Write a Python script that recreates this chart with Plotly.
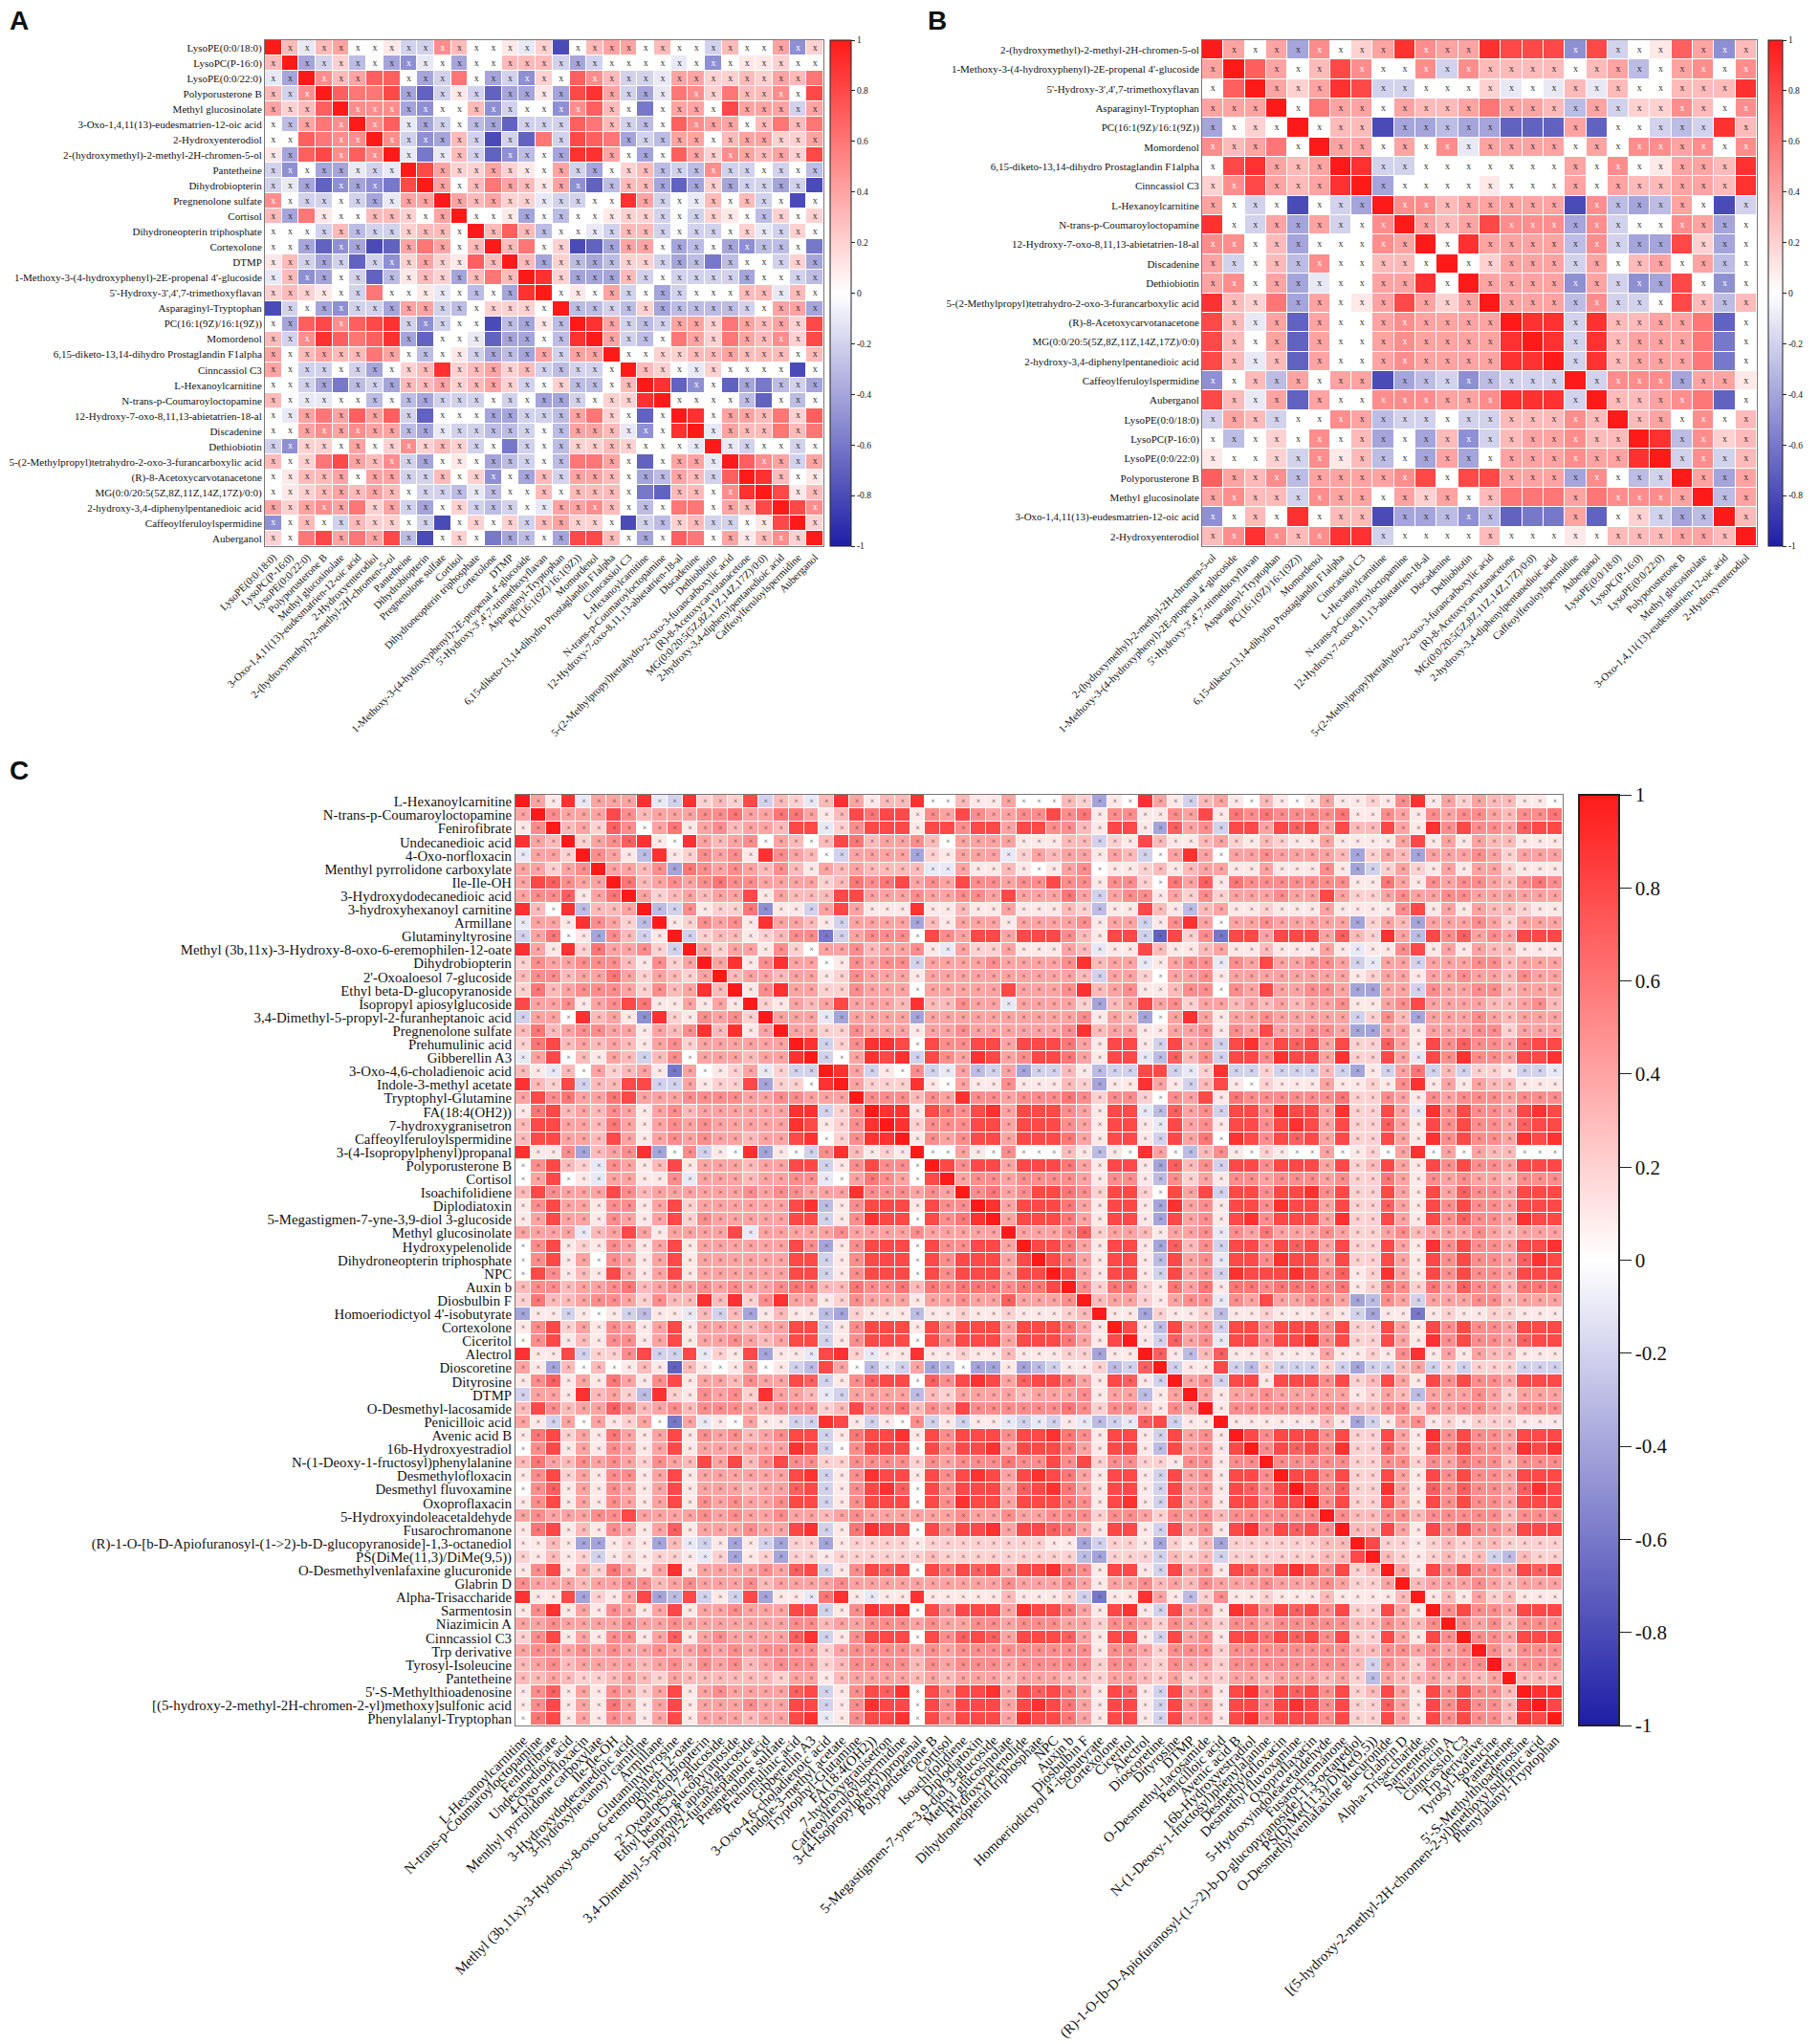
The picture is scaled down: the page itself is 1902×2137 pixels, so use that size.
import plotly.graph_objects as go

W, H = 1902, 2137

# ---------------- panel A ----------------
a_labels = [
    "LysoPE(0:0/18:0)", "LysoPC(P-16:0)", "LysoPE(0:0/22:0)", "Polyporusterone B",
    "Methyl glucosinolate", "3-Oxo-1,4,11(13)-eudesmatrien-12-oic acid", "2-Hydroxyenterodiol",
    "2-(hydroxymethyl)-2-methyl-2H-chromen-5-ol", "Pantetheine", "Dihydrobiopterin",
    "Pregnenolone sulfate", "Cortisol", "Dihydroneopterin triphosphate", "Cortexolone", "DTMP",
    "1-Methoxy-3-(4-hydroxyphenyl)-2E-propenal 4'-glucoside", "5'-Hydroxy-3',4',7-trimethoxyflavan",
    "Asparaginyl-Tryptophan", "PC(16:1(9Z)/16:1(9Z))", "Momordenol",
    "6,15-diketo-13,14-dihydro Prostaglandin F1alpha", "Cinncassiol C3", "L-Hexanoylcarnitine",
    "N-trans-p-Coumaroyloctopamine", "12-Hydroxy-7-oxo-8,11,13-abietatrien-18-al", "Discadenine",
    "Dethiobiotin", "5-(2-Methylpropyl)tetrahydro-2-oxo-3-furancarboxylic acid",
    "(R)-8-Acetoxycarvotanacetone", "MG(0:0/20:5(5Z,8Z,11Z,14Z,17Z)/0:0)",
    "2-hydroxy-3,4-diphenylpentanedioic acid", "Caffeoylferuloylspermidine", "Auberganol",
]
# lower triangle, one char per cell: '0'..'9' = 0.0..0.9, 'a'..'i' = -0.1..-0.9
a_rows = [
    "", "3", "ad", "3b5", "4237", "0c465", "007655", "1d78575", "be0ddaba", "badgedef8",
    "50bb0bda44", "3d610033204", "000b3cbb2330", "00dgedhg46403", "13bdbgbe242173",
    "a3ed0bgc132d363", "23210b6001a0c0d9", "hb0debbd44bc02220", "0d785789beb00hcd1c",
    "3b597679dg00agdd0c9", "403433640c01bdcd4b44", "40bb0bd023923423bcbb0",
    "00bdfcbd3342342b02cc03", "30aa00c0cdbbb0b0ddb0229", "0a464747bg000ddbbc4620g0",
    "00454544cdabbccb0c443ae09", "be2204025232b0fb0c2232000a", "30268435bd010dcb0c6640g044a",
    "01334044bb302e0d3b4430dc43b7", "012343430bbcac00303330fg33059",
    "42454624bd02bcb0a44530c0660438", "e030b3220bh0202b34220hbc23bb018",
    "20684648ch020fdc0d8830d076041352",
]

# ---------------- panel B ----------------
b_labels = [
    "2-(hydroxymethyl)-2-methyl-2H-chromen-5-ol", "1-Methoxy-3-(4-hydroxyphenyl)-2E-propenal 4'-glucoside",
    "5'-Hydroxy-3',4',7-trimethoxyflavan", "Asparaginyl-Tryptophan", "PC(16:1(9Z)/16:1(9Z))",
    "Momordenol", "6,15-diketo-13,14-dihydro Prostaglandin F1alpha", "Cinncassiol C3",
    "L-Hexanoylcarnitine", "N-trans-p-Coumaroyloctopamine", "12-Hydroxy-7-oxo-8,11,13-abietatrien-18-al",
    "Discadenine", "Dethiobiotin", "5-(2-Methylpropyl)tetrahydro-2-oxo-3-furancarboxylic acid",
    "(R)-8-Acetoxycarvotanacetone", "MG(0:0/20:5(5Z,8Z,11Z,14Z,17Z)/0:0)",
    "2-hydroxy-3,4-diphenylpentanedioic acid", "Caffeoylferuloylspermidine", "Auberganol",
    "LysoPE(0:0/18:0)", "LysoPC(P-16:0)", "LysoPE(0:0/22:0)", "Polyporusterone B",
    "Methyl glucosinolate", "3-Oxo-1,4,11(13)-eudesmatrien-12-oic acid", "2-Hydroxyenterodiol",
]
b_rows = [
    "", "4", "07", "444", "d020", "53460", "089434", "2584349", "40b0h0bd", "90b4d4b05",
    "5503d00054", "4b03c500330", "4504da004490", "9326d40148424", "83a4g400454444",
    "8304g4004544449", "83a3g40045444499", "e03c4044hdcbecbbb", "83a4g400555445999b",
    "b43b0054cbb0bb33353", "0c020503d0d3eb344533", "1002b513c0d4d04445449",
    "7435c444458088444d50cb", "4533b544042403666465554", "e0309033hddcecgff4g02bdc",
    "35953599b0000300010333443",
]

# ---------------- panel C ----------------
c_labels = [
    "L-Hexanoylcarnitine", "N-trans-p-Coumaroyloctopamine", "Fenirofibrate", "Undecanedioic acid",
    "4-Oxo-norfloxacin", "Menthyl pyrrolidone carboxylate", "Ile-Ile-OH", "3-Hydroxydodecanedioic acid",
    "3-hydroxyhexanoyl carnitine", "Armillane", "Glutaminyltyrosine",
    "Methyl (3b,11x)-3-Hydroxy-8-oxo-6-eremophilen-12-oate", "Dihydrobiopterin",
    "2'-Oxoaloesol 7-glucoside", "Ethyl beta-D-glucopyranoside", "Isopropyl apiosylglucoside",
    "3,4-Dimethyl-5-propyl-2-furanheptanoic acid", "Pregnenolone sulfate", "Prehumulinic acid",
    "Gibberellin A3", "3-Oxo-4,6-choladienoic acid", "Indole-3-methyl acetate", "Tryptophyl-Glutamine",
    "FA(18:4(OH2))", "7-hydroxygranisetron", "Caffeoylferuloylspermidine", "3-(4-Isopropylphenyl)propanal",
    "Polyporusterone B", "Cortisol", "Isoachifolidiene", "Diplodiatoxin",
    "5-Megastigmen-7-yne-3,9-diol 3-glucoside", "Methyl glucosinolate", "Hydroxypelenolide",
    "Dihydroneopterin triphosphate", "NPC", "Auxin b", "Diosbulbin F", "Homoeriodictyol 4'-isobutyrate",
    "Cortexolone", "Ciceritol", "Alectrol", "Dioscoretine", "Dityrosine", "DTMP", "O-Desmethyl-lacosamide",
    "Penicilloic acid", "Avenic acid B", "16b-Hydroxyestradiol", "N-(1-Deoxy-1-fructosyl)phenylalanine",
    "Desmethylofloxacin", "Desmethyl fluvoxamine", "Oxoproflaxacin", "5-Hydroxyindoleacetaldehyde",
    "Fusarochromanone", "(R)-1-O-[b-D-Apiofuranosyl-(1->2)-b-D-glucopyranoside]-1,3-octanediol",
    "PS(DiMe(11,3)/DiMe(9,5))", "O-Desmethylvenlafaxine glucuronide", "Glabrin D", "Alpha-Trisaccharide",
    "Sarmentosin", "Niazimicin A", "Cinncassiol C3", "Trp derivative", "Tyrosyl-Isoleucine", "Pantetheine",
    "5'-S-Methylthioadenosine", "[(5-hydroxy-2-methyl-2H-chromen-2-yl)methoxy]sulfonic acid",
    "Phenylalanyl-Tryptophan",
]
c_rows = [
    "", "4", "15", "943", "a442", "44245", "487544", "4557146", "9309c334", "a4419542c",
    "b4601d53b1", "9419264452b", "254455531524", "3553446424324", "26345554253493",
    "844514586114141", "b4409341e9215452", "36345544143593914", "268343431452444444",
    "a4803143b3504443449", "31a3042341f40124a2bb", "9328b3388bb41228d2209",
    "4856446844455554455444", "16834354145344444499b25", "388443641454544444981259",
    "3884438414545443448902599", "9115d3459d05b109d10b593121", "05832a54138144434488b158550",
    "04801a44115a44434455a0465408", "38544485344444454554449555454",
    "15844155148244444489c158881855", "14844154148254444488b1598808569",
    "4444a3484144448a4444454444544444", "05812154148144444485d158880855884",
    "05814054148144444488b1588808588848", "08513184148144444488b15888085888488",
    "355344563454545445663365563656665668", "2633455425339392594412544414454474445",
    "d11b101bc11a3b3d1311cd2111c11211211123", "15824154148144434488b158881858884888641",
    "05813155148144543488b1588808588848886418", "9118b2258bb8a218d11a892a11911211311122d11",
    "41d3030131g3101401bc840cab4dc0dd1dcb112cb7", "15714164158144354487b157880758984788641871b",
    "b4419342c92154529443ab4444c32444434445144c14",
    "385344753453555445552385563548555555652553154",
    "41b4041240f4a10411bb981b105b1b11abab1acba78b11",
    "16824164148154534588b168891858885889651881b8451",
    "05814154148144444498b058880858894888641881c84518",
    "3643545425438483585522555525455565585825522155155",
    "15824155148144444489b159881858984898641881b8451885",
    "05714154148144434478b158970858884789641881b84518758",
    "15814154148154544588b158880859884888651891b845188588",
    "45444558444454544544345444444544544555255425453555555",
    "16813154147144454489b169880858894887641881b84518958785",
    "1131dd121d3ab1d1bd22d1222212222222211db221d213d22222233",
    "21312b121221a2d12d2212222223222222222cd222b323b222222338",
    "15814264149144445478b158780868784889651881b84518758985823",
    "5444344553454445344445444444444454445414453435444544454224",
    "9118d2148dc8b1b8d11a691a1191111131112bf11941c25112111311113",
    "15914154148144544488b159890858884988641891b84519858785822841",
    "4454444544544444445534455545445545554425542544255455555335435",
    "25814155147145444479b158880857874888741881b8451886878582284185",
    "455454544544545455552455554545555555551554255525555555533554545",
    "34534444345354534555235555354555455555255325442555555553b5425555",
    "33432234324333333244134444343444344433244324232443444342c43343434",
    "15714154248145444478b158790858894878641871b84518958785823841858553",
    "15814164148144454488b159880858884898641881b845188589858227418585539",
    "06814154148144434489a158890858884988641881b8451895888582284185855398",
]


def decode(ch):
    if ch.isdigit():
        return int(ch) / 10
    return -(ord(ch) - 96) / 10


def build(rows):
    n = len(rows)
    m = [[1.0] * n for _ in range(n)]
    for i, r in enumerate(rows):
        assert len(r) == i, f"row {i} has {len(r)} chars"
        for j, ch in enumerate(r):
            v = decode(ch)
            m[i][j] = v
            m[j][i] = v
    return m


colorscale = [[0, "#1e1ea6"], [0.5, "#ffffff"], [1, "#ff1a1a"]]
serif = "Liberation Serif"


def fx(p):
    return p / W


def fy(p):
    return 1 - p / H


panels = [
    dict(labels=a_labels, rows=a_rows, ax="", box=(277, 861, 42, 571), cb=(868, 22),
         lab=11, cbfont=9.5, cbtick=4, cbline=1, mark="x", msize=10, thr=0.6),
    dict(labels=b_labels, rows=b_rows, ax="2", box=(1257, 1837, 42, 571), cb=(1849, 15),
         lab=11, cbfont=9.5, cbtick=4, cbline=1, mark="x", msize=10, thr=0.6),
    dict(labels=c_labels, rows=c_rows, ax="3", box=(539, 1634, 831, 1804), cb=(1651, 42),
         lab=14.8, cbfont=21, cbtick=12, cbline=2, mark="\u00d7", msize=8, thr=0.75),
]

fig = go.Figure()
layout = {}
ticks = [-1, -0.8, -0.6, -0.4, -0.2, 0, 0.2, 0.4, 0.6, 0.8, 1]
ticktext = ["-1", "-0.8", "-0.6", "-0.4", "-0.2", "0", "0.2", "0.4", "0.6", "0.8", "1"]

for p in panels:
    z = build(p["rows"])
    labels = p["labels"]
    n = len(labels)
    l, r, t, b = p["box"]
    cbx, cbw = p["cb"]
    fig.add_trace(go.Heatmap(
        z=z, x=labels, y=labels,
        colorscale=colorscale, zmin=-1, zmax=1,
        xgap=1, ygap=1, hoverinfo="skip",
        xaxis="x" + p["ax"], yaxis="y" + p["ax"],
        colorbar=dict(
            x=fx(cbx), xanchor="left", y=fy(t), yanchor="top",
            len=b - t, lenmode="pixels", thickness=cbw, thicknessmode="pixels",
            outlinewidth=p["cbline"], outlinecolor="#222",
            tickvals=ticks, ticktext=ticktext, ticks="outside",
            ticklen=p["cbtick"], tickwidth=1, tickcolor="#222",
            tickfont=dict(family=serif, size=p["cbfont"], color="#111"),
            xpad=0, ypad=0,
        ),
    ))
    # non-significant marks
    xs, ys, cols = [], [], []
    for i in range(n):
        for j in range(n):
            v = z[i][j]
            if i != j and abs(v) < p["thr"]:
                xs.append(labels[j])
                ys.append(labels[i])
                if p["mark"] == "x":
                    cols.append("#ffffff" if abs(v) >= 0.45 else "#333333")
                else:
                    cols.append("#444444")
    fig.add_trace(go.Scatter(
        x=xs, y=ys, mode="text", text=[p["mark"]] * len(xs),
        textfont=dict(family=serif, size=p["msize"], color=cols),
        xaxis="x" + p["ax"], yaxis="y" + p["ax"],
        hoverinfo="skip", showlegend=False, cliponaxis=False,
    ))
    tf = dict(family=serif, size=p["lab"], color="#111")
    layout["xaxis" + p["ax"]] = dict(
        domain=[fx(l), fx(r)], anchor="y" + p["ax"], type="category",
        categoryorder="array", categoryarray=labels, range=[-0.5, n - 0.5],
        tickmode="array", tickvals=labels, ticktext=labels, automargin=False,
        tickangle=-45, tickfont=tf, showgrid=False, zeroline=False,
        showline=True, mirror=True, linecolor="#777", linewidth=1, ticks="",
    )
    layout["yaxis" + p["ax"]] = dict(
        domain=[fy(b), fy(t)], anchor="x" + p["ax"], type="category",
        categoryorder="array", categoryarray=labels, range=[n - 0.5, -0.5],
        tickmode="array", tickvals=labels, ticktext=labels, automargin=False,
        tickfont=tf, showgrid=False, zeroline=False,
        showline=True, mirror=True, linecolor="#777", linewidth=1, ticks="",
    )

letters = [("A", 8, 4), ("B", 968, 4), ("C", 8, 788)]
annotations = [
    dict(text=f"<b>{s}</b>", x=fx(x), y=fy(y), xref="paper", yref="paper",
         xanchor="left", yanchor="top", showarrow=False,
         font=dict(family="Liberation Sans", size=28, color="#111"))
    for s, x, y in letters
]

fig.update_layout(
    template="none",
    width=W, height=H, margin=dict(l=0, r=0, t=0, b=0, pad=0),
    paper_bgcolor="white", plot_bgcolor="white",
    showlegend=False, annotations=annotations, **layout,
)

fig.write_html(
    "out.html",
    config={"displayModeBar": False},
    post_script="document.body.style.margin='0';document.body.style.overflow='hidden';",
)
